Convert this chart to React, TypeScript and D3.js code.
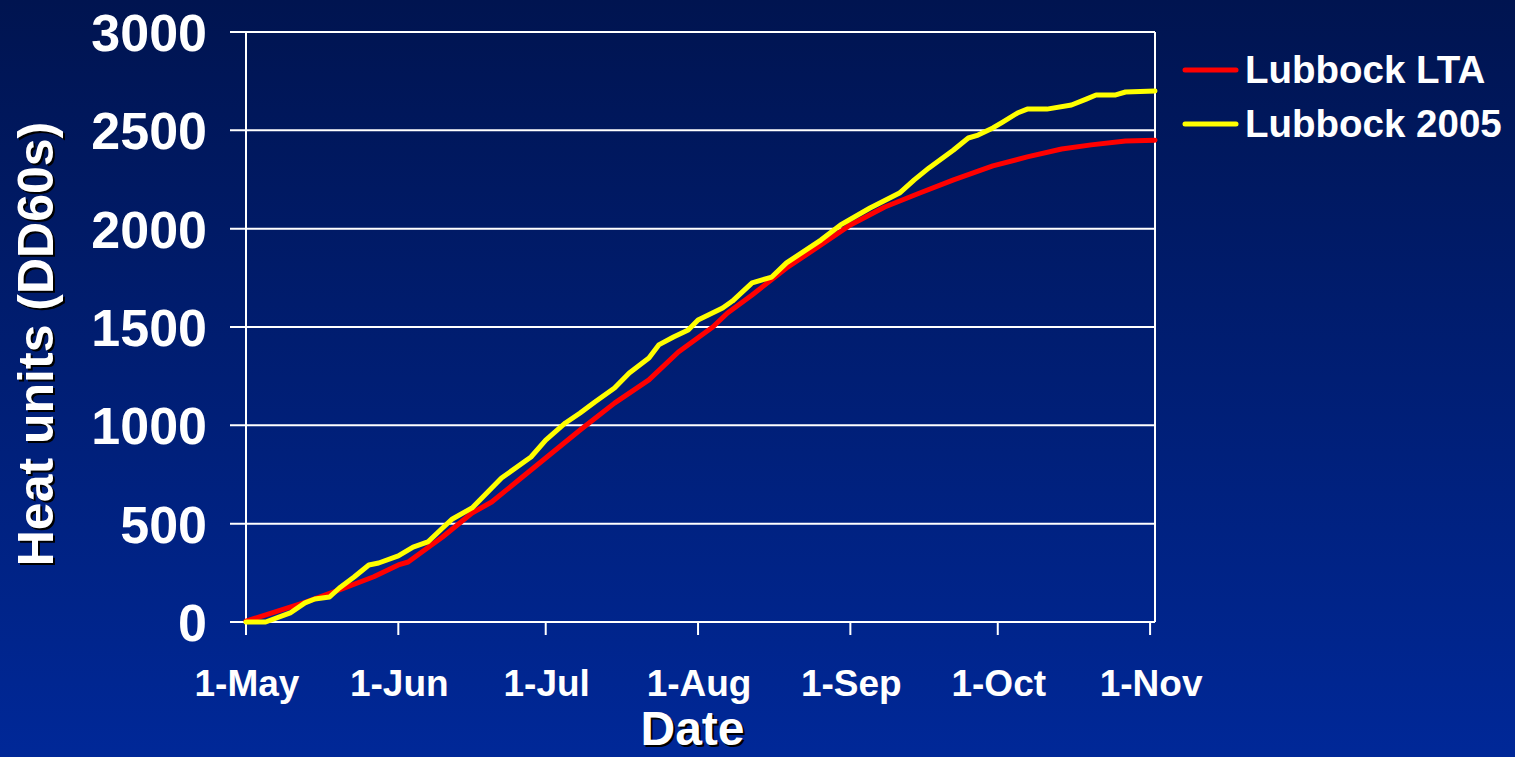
import React from "react";
import * as d3 from "d3";

// ---- data (days since 1-May-2005, cumulative DD60 heat units) ----
const ltaDays = [0, 5, 12, 19, 26, 31, 33, 40, 46, 50, 56, 61, 68, 75, 82, 88, 95, 98, 103, 110, 117, 123, 130, 137, 144, 152, 159, 166, 172, 179, 185];
const ltaValues = [5, 44, 100, 163, 230, 290, 305, 432, 554, 610, 732, 834, 976, 1113, 1231, 1373, 1500, 1571, 1663, 1800, 1917, 2019, 2110, 2180, 2248, 2319, 2365, 2405, 2426, 2446, 2450];

const y2005Days = [0, 4, 9, 12, 14, 17, 19, 22, 25, 27, 31, 34, 37, 40, 42, 46, 50, 52, 58, 61, 65, 68, 71, 75, 78, 82, 84, 87, 90, 92, 97, 99, 103, 107, 110, 117, 121, 127, 133, 136, 139, 144, 147, 149, 152, 154, 157, 159, 163, 168, 171, 173, 177, 179, 185];
const y2005Values = [0, 0, 46, 97, 117, 127, 173, 229, 290, 300, 336, 381, 407, 478, 524, 580, 681, 732, 839, 925, 1012, 1063, 1119, 1190, 1266, 1342, 1409, 1449, 1485, 1536, 1597, 1632, 1724, 1754, 1826, 1942, 2019, 2105, 2181, 2248, 2309, 2400, 2461, 2476, 2512, 2542, 2588, 2608, 2608, 2629, 2659, 2680, 2680, 2695, 2700];

const yTicks = [0, 500, 1000, 1500, 2000, 2500, 3000];
const seriesNames = ["Lubbock LTA", "Lubbock 2005"];
const seriesColors = ["#ff0000", "#ffff00"];
const xTitle = "Date";
const yTitle = "Heat units (DD60s)";

const W = 1515;
const H = 757;
const FONT = "'Liberation Sans', Arial, sans-serif";

const start = new Date(2005, 4, 1);
const end = new Date(2005, 10, 2);

export default function App() {
  const x = d3.scaleTime().domain([start, end]).range([246, 1155]);
  const y = d3.scaleLinear().domain([0, 3000]).range([622, 32]);
  const xTicks = d3.timeMonth.range(start, new Date(2005, 10, 2));
  const fmt = d3.timeFormat("%-d-%b");

  const toPts = (days: number[], vals: number[]) =>
    days.map((d, i) => [d3.timeDay.offset(start, d), vals[i]] as [Date, number]);
  const line = d3
    .line<[Date, number]>()
    .x((d) => x(d[0]))
    .y((d) => y(d[1]))
    .curve(d3.curveLinear);

  const series = [toPts(ltaDays, ltaValues), toPts(y2005Days, y2005Values)];
  const [x0, x1] = x.range();

  return (
    <svg
      width={W}
      height={H}
      style={{ position: "absolute", left: 0, top: 0, display: "block" }}
      fontFamily={FONT}
      fontWeight="bold"
    >
      <defs>
        <linearGradient id="bg" x1="0" y1="0" x2="0" y2="1">
          <stop offset="0" stopColor="#001450" />
          <stop offset="1" stopColor="#002898" />
        </linearGradient>
      </defs>
      <rect width={W} height={H} fill="url(#bg)" />

      {/* gridlines */}
      {yTicks.map((t) => (
        <line key={"g" + t} x1={230} x2={x1} y1={y(t)} y2={y(t)} stroke="#ffffff" strokeWidth={2} />
      ))}
      {/* axes */}
      <line x1={x0} x2={x0} y1={y(3000)} y2={y(0) + 13} stroke="#ffffff" strokeWidth={2} />
      <line x1={x1} x2={x1} y1={y(3000)} y2={y(0)} stroke="#ffffff" strokeWidth={2} />
      {xTicks.map((t) => (
        <line key={"xt" + +t} x1={x(t)} x2={x(t)} y1={y(0)} y2={y(0) + 13} stroke="#ffffff" strokeWidth={2} />
      ))}

      {/* y tick labels */}
      {yTicks.map((t) => (
        <text key={"yl" + t} x={207} y={y(t) + 19} textAnchor="end" fontSize={52} fill="#ffffff">
          {t}
        </text>
      ))}
      {/* x tick labels */}
      {xTicks.map((t) => (
        <text key={"xl" + +t} x={x(t) + 1} y={696} textAnchor="middle" fontSize={37} fill="#ffffff">
          {fmt(t)}
        </text>
      ))}

      {/* series */}
      {series.map((pts, i) => (
        <path
          key={"s" + i}
          d={line(pts) || ""}
          fill="none"
          stroke={seriesColors[i]}
          strokeWidth={5}
          strokeLinejoin="round"
          strokeLinecap="round"
        />
      ))}

      {/* axis titles with shadow */}
      <text x={694.5} y={747} textAnchor="middle" fontSize={48} fill="#000000">
        {xTitle}
      </text>
      <text x={692.5} y={745} textAnchor="middle" fontSize={48} fill="#ffffff">
        {xTitle}
      </text>
      <g transform="translate(2,2)">
        <text transform="translate(53,344) rotate(-90)" textAnchor="middle" fontSize={50} fill="#000000">
          {yTitle}
        </text>
      </g>
      <text transform="translate(53,344) rotate(-90)" textAnchor="middle" fontSize={50} fill="#ffffff">
        {yTitle}
      </text>

      {/* legend */}
      {seriesNames.map((n, i) => (
        <g key={"lg" + i} transform={`translate(0,${i * 54})`}>
          <line x1={1185} x2={1236} y1={70} y2={70} stroke={seriesColors[i]} strokeWidth={5} strokeLinecap="round" />
          <text x={1245} y={83} fontSize={38.5} fill="#ffffff">
            {n}
          </text>
        </g>
      ))}
    </svg>
  );
}
